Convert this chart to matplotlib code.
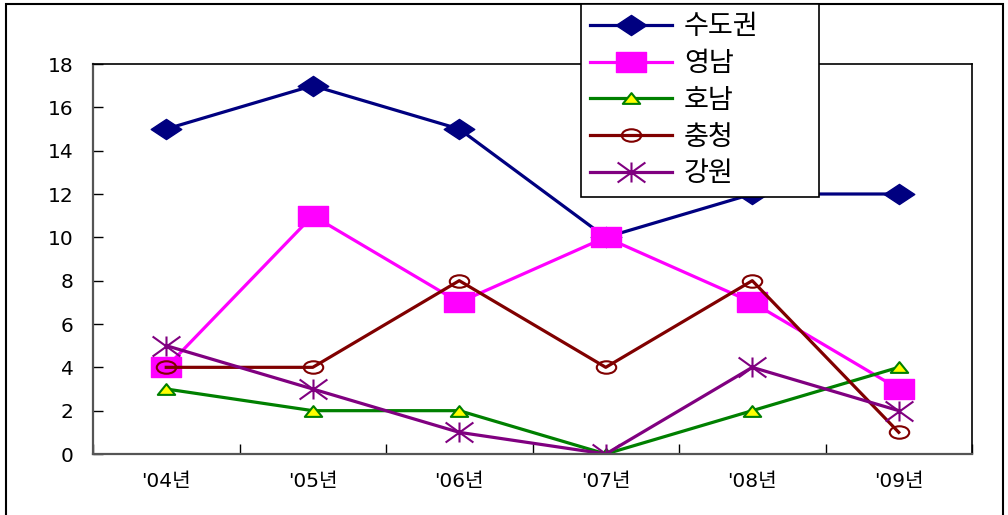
import matplotlib
matplotlib.use("Agg")
import matplotlib.pyplot as plt
from matplotlib.path import Path
from matplotlib.patches import Rectangle
import numpy as np

plt.rcParams['font.family'] = ['DejaVu Sans', 'Noto Sans CJK KR']

# Data
years = ["'04년", "'05년", "'06년", "'07년", "'08년", "'09년"]
sudogwon = [15, 17, 15, 10, 12, 12]
yeongnam = [4, 11, 7, 10, 7, 3]
honam = [3, 2, 2, 0, 2, 4]
chungcheong = [4, 4, 8, 4, 8, 1]
gangwon = [5, 3, 1, 0, 4, 2]
labels = ['수도권', '영남', '호남', '충청', '강원']

# wide markers (the original chart is stretched horizontally)
diamond = Path([(-1, 0), (0, 0.66), (1, 0), (0, -0.66), (-1, 0)],
               [Path.MOVETO, Path.LINETO, Path.LINETO, Path.LINETO, Path.CLOSEPOLY])
square = Path([(-1, -0.66), (1, -0.66), (1, 0.66), (-1, 0.66), (-1, -0.66)],
              [Path.MOVETO, Path.LINETO, Path.LINETO, Path.LINETO, Path.CLOSEPOLY])
tri = Path([(-1, -0.62), (1, -0.62), (0, 0.62), (-1, -0.62)],
           [Path.MOVETO, Path.LINETO, Path.LINETO, Path.CLOSEPOLY])
circ = Path.unit_circle()
circ = Path(circ.vertices * np.array([1, 0.64]), circ.codes)
star = Path([(0, -0.72), (0, 0.72), (-1, -0.72), (1, 0.72), (-1, 0.72), (1, -0.72)],
            [Path.MOVETO, Path.LINETO, Path.MOVETO, Path.LINETO, Path.MOVETO, Path.LINETO])

fig = plt.figure(figsize=(10.08, 5.15), dpi=100)
ax = fig.add_axes([93 / 1008, 61 / 515, 879 / 1008, 390 / 515])

x = np.arange(len(years))
ax.plot(x, sudogwon, color='#000080', lw=2.3, marker=diamond, ms=22,
        mfc='#000080', mec='#000080', label=labels[0])
ax.plot(x, yeongnam, color='#FF00FF', lw=2.3, marker=square, ms=21,
        mfc='#FF00FF', mec='#FF00FF', label=labels[1])
ax.plot(x, honam, color='#008000', lw=2.3, marker=tri, ms=12.5,
        mfc='#FFFF00', mec='#008000', mew=1.5, label=labels[2])
ax.plot(x, chungcheong, color='#800000', lw=2.3, marker=circ, ms=14,
        mfc='none', mec='#800000', mew=1.5, label=labels[3])
ax.plot(x, gangwon, color='#800080', lw=2.3, marker=star, ms=20,
        mfc='none', mec='#800080', mew=1.5, label=labels[4])

ax.set_xlim(-0.5, 5.5)
ax.set_ylim(0, 18)
ax.set_yticks(range(0, 19, 2))
ax.set_xticks(np.arange(-0.5, 6, 1))
ax.set_xticklabels([])
ax.set_xticks(x, minor=True)
ax.set_xticklabels(years, minor=True)
ax.tick_params(axis='x', which='major', direction='in', length=7, width=1)
ax.tick_params(axis='x', which='minor', length=0, pad=13, labelsize=14.5)
ax.tick_params(axis='y', direction='in', length=7, width=1, pad=14, labelsize=14.5)
for s in ax.spines.values():
    s.set_linewidth(1.2)
    s.set_color('black')
ax.spines['left'].set_color('#555555')
ax.spines['bottom'].set_color('#555555')
ax.spines['left'].set_linewidth(1.6)
ax.spines['bottom'].set_linewidth(1.6)

# outer chart border
fig.patches.append(Rectangle((6 / 1008, -0.1), 997 / 1008, 1.1 - 4 / 515,
                             transform=fig.transFigure, fill=False,
                             edgecolor='black', lw=1.5, clip_on=False))

leg = fig.legend(loc='upper left',
                 bbox_to_anchor=(581 / 1008, 1 - 191 / 515, 238 / 1008, 187 / 515),
                 mode='expand',
                 prop={'family': 'Noto Sans CJK KR', 'size': 19.5},
                 frameon=True, fancybox=False, edgecolor='black',
                 framealpha=1, handlelength=3.0, handletextpad=0.45,
                 labelspacing=0.36, borderpad=0.35, borderaxespad=0)
leg.get_frame().set_linewidth(1.2)

plt.savefig('out.png', dpi=100)
